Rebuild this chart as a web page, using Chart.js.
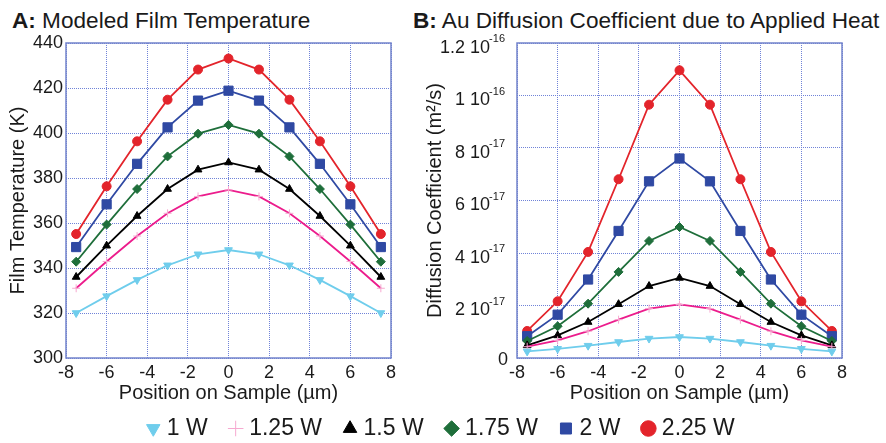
<!DOCTYPE html>
<html>
<head>
<meta charset="utf-8">
<script src="https://cdn.jsdelivr.net/npm/chart.js@4.4.0/dist/chart.umd.min.js"></script>
<style>
  html, body { margin: 0; padding: 0; background: #fff; }
  #page { position: relative; width: 886px; height: 443px; overflow: hidden; font-family: "Liberation Sans", Arial, sans-serif; }
  .title { position: absolute; top: 10px; font-size: 22.6px; line-height: 22px; color: #1a1a1a; white-space: nowrap; }
  canvas { position: absolute; }
</style>
</head>
<body>
<div id="page">
  <div class="title" style="left:12px"><b>A:</b> Modeled Film Temperature</div>
  <div class="title" style="left:413px"><b>B:</b> Au Diffusion Coefficient due to Applied Heat</div>
  <canvas id="chartA" width="443" height="405" style="left:0;top:0"></canvas>
  <canvas id="chartB" width="466" height="405" style="left:420px;top:0"></canvas>
  <canvas id="legend" width="886" height="70" style="left:0;top:391px"></canvas>
</div>
<script>
// position on sample (µm)
const positions = [-7.5, -6, -4.5, -3, -1.5, 0, 1.5, 3, 4.5, 6, 7.5];
const seriesNames = ['1 W', '1.25 W', '1.5 W', '1.75 W', '2 W', '2.25 W'];

// A: film temperature (K)
const temp1W   = [320, 327.5, 334.7, 341.2, 346.1, 348, 346.1, 341.2, 334.7, 327.5, 320];
const temp125W = [331, 342.9, 354.2, 364.3, 371.8, 374.7, 371.8, 364.3, 354.2, 342.9, 331];
const temp15W  = [336, 349.9, 363.1, 375.1, 383.7, 386.9, 383.7, 375.1, 363.1, 349.9, 336];
const temp175W = [342.8, 359.3, 375.1, 389.6, 399.7, 403.6, 399.7, 389.6, 375.1, 359.3, 342.8];
const temp2W   = [349.3, 368.3, 386.3, 402.5, 414.4, 418.8, 414.4, 402.5, 386.3, 368.3, 349.3];
const temp225W = [355.1, 376.3, 396.3, 414.8, 428.2, 433.1, 428.2, 414.8, 396.3, 376.3, 355.1];

// B: Au diffusion coefficient (m²/s)
const diff1W   = [2.5e-18, 3.5e-18, 4.7e-18, 6.1e-18, 7.4e-18, 8.0e-18, 7.4e-18, 6.1e-18, 4.7e-18, 3.5e-18, 2.5e-18];
const diff125W = [4.3e-18, 6.7e-18, 1.02e-17, 1.46e-17, 1.88e-17, 2.04e-17, 1.88e-17, 1.46e-17, 1.02e-17, 6.7e-18, 4.3e-18];
const diff15W  = [4.8e-18, 8.6e-18, 1.37e-17, 2.05e-17, 2.74e-17, 3.05e-17, 2.74e-17, 2.05e-17, 1.37e-17, 8.6e-18, 4.8e-18];
const diff175W = [6.5e-18, 1.21e-17, 2.07e-17, 3.28e-17, 4.46e-17, 4.99e-17, 4.46e-17, 3.28e-17, 2.07e-17, 1.21e-17, 6.5e-18];
const diff2W   = [8.3e-18, 1.65e-17, 2.99e-17, 4.84e-17, 6.73e-17, 7.6e-17, 6.73e-17, 4.84e-17, 2.99e-17, 1.65e-17, 8.3e-18];
const diff225W = [1.03e-17, 2.16e-17, 4.04e-17, 6.81e-17, 9.65e-17, 1.096e-16, 9.65e-17, 6.81e-17, 4.04e-17, 2.16e-17, 1.03e-17];

// B tick labels: mantissa part and superscript exponent
const yTickValuesB = [0, 2e-17, 4e-17, 6e-17, 8e-17, 1e-16, 1.2e-16];
const yTickBaseB = ['0', '2 10', '4 10', '6 10', '8 10', '1 10', '1.2 10'];
const yTickExpB  = ['', '-17', '-17', '-17', '-17', '-16', '-16'];

const tempSeries = [temp1W, temp125W, temp15W, temp175W, temp2W, temp225W];
const diffSeries = [diff1W, diff125W, diff15W, diff175W, diff2W, diff225W];

const fontFamily = '"Liberation Sans", Arial, sans-serif';
const textColor = '#1a1a1a';
const gridBlue = '#7083d8';
const frameBlue = '#7384cc';

const looks = [
  { line: '#6fcdec', fill: '#6fcdec', edge: '#6fcdec', style: 'triangle', rot: 180, r: 4.5 },
  { line: '#ec1c8c', fill: '#f6a9d0', edge: '#f6a9d0', style: 'cross', rot: 0, r: 4 },
  { line: '#000000', fill: '#000000', edge: '#000000', style: 'triangle', rot: 0, r: 4.5 },
  { line: '#1e6e3a', fill: '#1e6e3a', edge: '#1e6e3a', style: 'rectRot', rot: 0, r: 4.5 },
  { line: '#2f49a3', fill: '#2f49a3', edge: '#2f49a3', style: 'rect', rot: 0, r: 6.5 },
  { line: '#e3242b', fill: '#e3242b', edge: '#e3242b', style: 'circle', rot: 0, r: 4.5 },
];

const frame = {
  id: 'frame',
  beforeDatasetsDraw(chart) {
    const { ctx, chartArea: a } = chart;
    ctx.save();
    ctx.strokeStyle = frameBlue;
    ctx.lineWidth = 1.5;
    ctx.strokeRect(a.left, a.top, a.right - a.left, a.bottom - a.top);
    ctx.restore();
  }
};

// y labels of panel B with raised exponents, placed by the y scale
const supTicks = {
  id: 'supTicks',
  afterDraw(chart) {
    const s = chart.scales.y;
    const ctx = chart.ctx;
    ctx.save();
    ctx.fillStyle = textColor;
    ctx.textAlign = 'right';
    ctx.textBaseline = 'alphabetic';
    yTickValuesB.forEach((v, i) => {
      const y = s.getPixelForValue(v);
      const right = s.right - 12;
      if (!yTickExpB[i]) {
        ctx.font = `18px ${fontFamily}`;
        ctx.fillText(yTickBaseB[i], s.right - 9, y + 6.5);
        return;
      }
      ctx.font = `11px ${fontFamily}`;
      const ew = ctx.measureText(yTickExpB[i]).width;
      ctx.fillText(yTickExpB[i], right, y - 1);
      ctx.font = `18px ${fontFamily}`;
      ctx.fillText(yTickBaseB[i], right - ew + 1, y + 9.5);
    });
    ctx.restore();
  }
};

function makeDatasets(series) {
  return series.map((vals, i) => ({
    label: seriesNames[i],
    data: vals === null ? [] : positions.map((x, j) => ({ x, y: vals[j] })),
    borderColor: looks[i].line,
    borderWidth: 1.8,
    tension: 0,
    pointStyle: looks[i].style,
    pointRotation: looks[i].rot,
    pointRadius: looks[i].r,
    pointBackgroundColor: looks[i].fill,
    pointBorderColor: looks[i].edge,
    pointBorderWidth: 1,
  }));
}

function panel(id, series, yOpts, yTitle, yWidth, padRight, yTitlePad, extra) {
  return new Chart(document.getElementById(id), {
    type: 'line',
    data: { datasets: makeDatasets(series) },
    options: {
      responsive: false,
      animation: false,
      layout: { padding: { top: 43, right: padRight, left: 0, bottom: 0 } },
      plugins: { legend: { display: false }, tooltip: { enabled: false } },
      scales: {
        x: {
          type: 'linear',
          min: -8, max: 8,
          afterFit: s => { s.height = 47; },
          grid: { color: gridBlue, lineWidth: 1, drawTicks: false },
          border: { display: false, dash: [1, 1] },
          ticks: { stepSize: 2, padding: 4, color: textColor, font: { family: fontFamily, size: 18 } },
          title: { display: true, text: 'Position on Sample (µm)', color: textColor,
                   padding: { top: 0, bottom: 0 }, font: { family: fontFamily, size: 20 } }
        },
        y: Object.assign({
          type: 'linear',
          afterFit: s => { s.width = yWidth; },
          grid: { color: gridBlue, lineWidth: 1, drawTicks: false },
          border: { display: false, dash: [1, 1] },
          title: { display: true, text: yTitle, color: textColor,
                   padding: { top: yTitlePad, bottom: 0 }, font: { family: fontFamily, size: 20 } }
        }, yOpts)
      }
    },
    plugins: extra ? [frame, extra] : [frame]
  });
}

panel('chartA', tempSeries, {
  min: 300, max: 440,
  ticks: { stepSize: 20, padding: 3, color: textColor, font: { family: fontFamily, size: 18 } }
}, 'Film Temperature (K)', 66, 52, 6, null);

panel('chartB', diffSeries, {
  min: 0, max: 1.2e-16,
  afterBuildTicks: s => { s.ticks = yTickValuesB.map(v => ({ value: v })); },
  ticks: { display: false }
}, 'Diffusion Coefficient (m²/s)', 97, 44, 3, supTicks);

new Chart(document.getElementById('legend'), {
  type: 'line',
  data: { datasets: makeDatasets(seriesNames.map(() => null)) },
  options: {
    responsive: false,
    animation: false,
    scales: { x: { display: false }, y: { display: false } },
    plugins: {
      tooltip: { enabled: false },
      legend: {
        position: 'top',
        maxHeight: 100,
        labels: {
          usePointStyle: true, boxWidth: 4, boxHeight: 11, padding: 26,
          color: textColor, font: { family: fontFamily, size: 23 }
        }
      }
    }
  }
});
</script>
</body>
</html>
